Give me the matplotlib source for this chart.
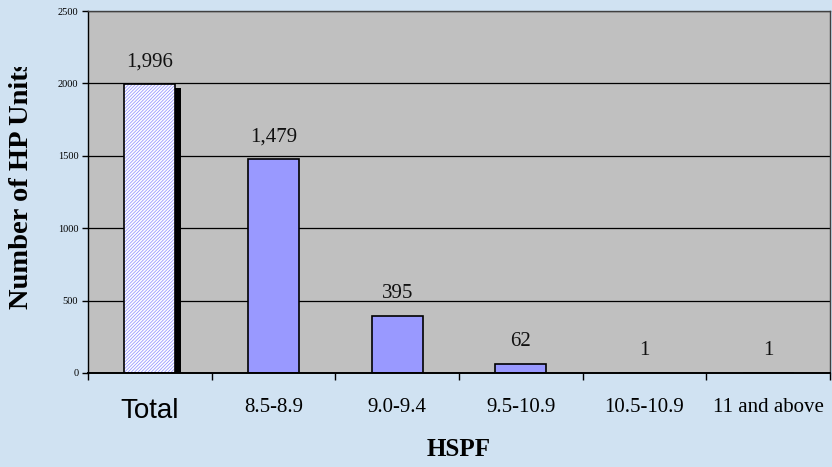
import matplotlib
matplotlib.use("Agg")
import matplotlib.pyplot as plt
from matplotlib.transforms import Bbox, TransformedBbox, ScaledTranslation
import numpy as np

categories = ["Total", "8.5-8.9", "9.0-9.4", "9.5-10.9", "10.5-10.9", "11 and above"]
values = [1996, 1479, 395, 62, 1, 1]
value_labels = ["1,996", "1,479", "395", "62", "1", "1"]
yticks = [0, 500, 1000, 1500, 2000, 2500]

plt.rcParams['hatch.linewidth'] = 0.6
plt.rcParams['hatch.color'] = '#9999FF'

fig = plt.figure(figsize=(8.32, 4.67), dpi=100)
fig.patch.set_facecolor('#D0E2F2')
ax = fig.add_axes([88/832, 1-373/467, (830-88)/832, (373-11)/467])
ax.set_facecolor('#C0C0C0')

x = np.arange(len(categories))
w = 0.41
# shadow for the Total bar
sh = ax.bar(x[0], values[0], width=w, facecolor='black', edgecolor='none', zorder=2.8)
for p in sh:
    p.set_transform(ax.transData + ScaledTranslation(6/100, -4/100, fig.dpi_scale_trans))
# Total bar (hatched)
ax.bar(x[0], values[0], width=w, facecolor='white', edgecolor='#9999FF',
       hatch='//////////', linewidth=0, zorder=3)
ax.bar(x[0], values[0], width=w, facecolor='none', edgecolor='black',
       linewidth=1.2, zorder=4)
ax.bar(x[1:], values[1:], width=w, facecolor='#9999FF', edgecolor='black',
       linewidth=1.2, zorder=3)

for xi, v, lab in zip(x, values, value_labels):
    ax.annotate(lab, (xi, v), xytext=(0, 16), textcoords='offset points',
                ha='center', va='center', fontsize=15, family='Liberation Serif',
                color='#111111', zorder=5)

ax.set_xlim(-0.5, len(categories) - 0.5)
ax.set_ylim(0, 2500)
ax.set_yticks(yticks)
ax.set_yticklabels([str(t) for t in yticks], family='Liberation Serif', fontsize=7.5)
ax.yaxis.grid(True, color='black', linewidth=0.9)
ax.set_axisbelow(True)

ax.set_xticks(np.arange(len(categories) + 1) - 0.5)
ax.set_xticklabels([])
ax.set_xticks(x, minor=True)
ax.set_xticklabels(categories, minor=True)
ax.tick_params(axis='x', which='minor', length=0, pad=18)
ax.tick_params(axis='x', which='major', length=5, width=1, direction='out')
ax.tick_params(axis='y', length=4, width=1, direction='out', pad=3)
for i, lbl in enumerate(ax.get_xticklabels(minor=True)):
    if i == 0:
        lbl.set_family('Liberation Sans')
        lbl.set_fontsize(20)
    else:
        lbl.set_family('Liberation Serif')
        lbl.set_fontsize(15)

for s in ax.spines.values():
    s.set_linewidth(1)
    s.set_color('black')
    s.set_zorder(6)
ax.spines['bottom'].set_linewidth(1.4)
ax.spines['top'].set_color('#404040')
ax.spines['right'].set_color('#404040')

fig.text(459/832, 1-450/467, "HSPF", ha='center', va='center', fontsize=18,
         fontweight='bold', family='Liberation Serif')
yl = fig.text(22/832, 1-184.5/467, "Number of HP Units", ha='center', va='center',
              rotation=90, fontsize=20.5, fontweight='bold', family='Liberation Serif')
yl.set_clip_on(True)
yl.set_clip_box(TransformedBbox(Bbox.from_extents(0, 0, 1, 1-67/467), fig.transFigure))

fig.savefig("out.png", dpi=100, facecolor=fig.get_facecolor())
